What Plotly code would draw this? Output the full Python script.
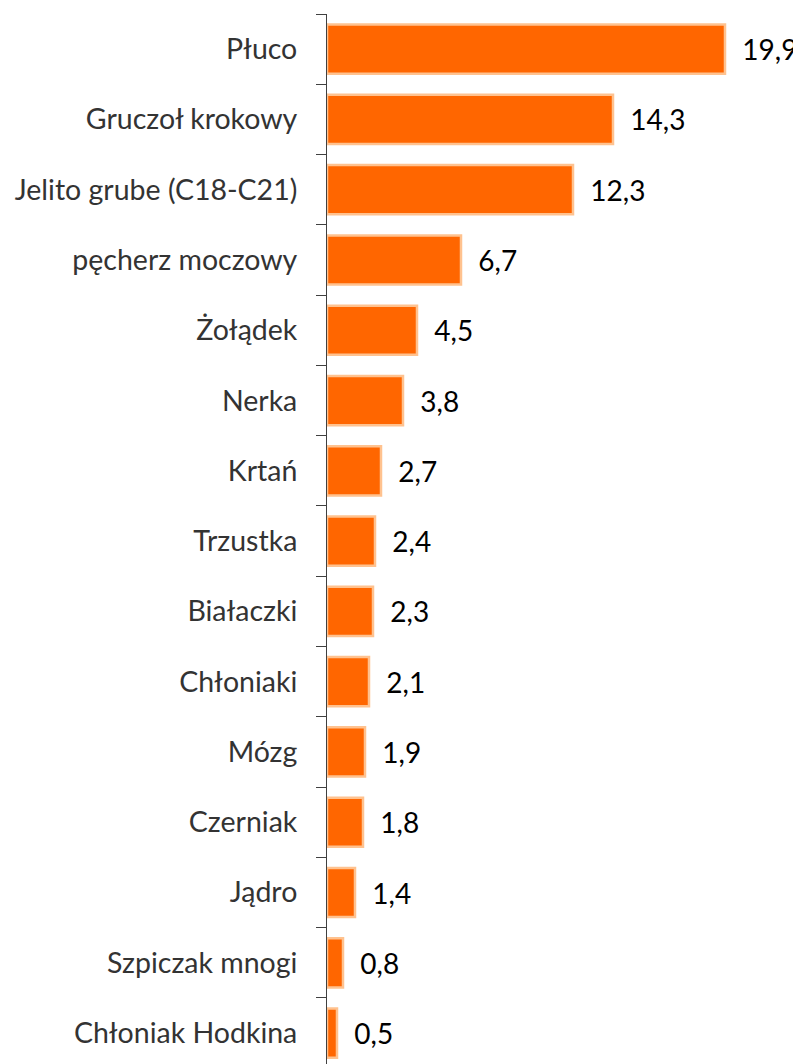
import plotly.graph_objects as go

categories = [
    "Płuco", "Gruczoł krokowy", "Jelito grube (C18-C21)", "pęcherz moczowy",
    "Żołądek", "Nerka", "Krtań", "Trzustka", "Białaczki", "Chłoniaki",
    "Mózg", "Czerniak", "Jądro", "Szpiczak mnogi", "Chłoniak Hodkina",
]
values = [19.9, 14.3, 12.3, 6.7, 4.5, 3.8, 2.7, 2.4, 2.3, 2.1, 1.9, 1.8, 1.4, 0.8, 0.5]

labels = ["\u00a0\u00a0" + f"{v:.1f}".replace(".", ",") for v in values]

fig = go.Figure(go.Bar(
    x=values, y=categories, orientation="h",
    marker=dict(color="#FF6600", line=dict(color="#FFC28F", width=2.5)),
    width=0.7,
    text=labels, textposition="outside", cliponaxis=False,
    textfont=dict(size=28, color="#000000", family="Lato"),
))

# page body has an 8px margin, so the figure is shifted by that
fig.update_layout(
    width=793, height=1056,
    margin=dict(l=319, r=0, t=6, b=0),
    plot_bgcolor="white", paper_bgcolor="white",
    font=dict(family="Lato", size=28.5, color="#333333"),
    showlegend=False,
    bargap=0.3,
)
fig.update_xaxes(range=[0, 23.7], visible=False, automargin=False)
fig.update_yaxes(
    type="category", categoryorder="array", categoryarray=categories,
    range=[14.44, -0.5], automargin=False,
    showline=True, linecolor="#404040", linewidth=1,
    ticks="outside", ticklen=10, tickcolor="#404040", tickson="boundaries",
    ticklabelstandoff=23, showgrid=False,
)

fig.write_html("out.html")
